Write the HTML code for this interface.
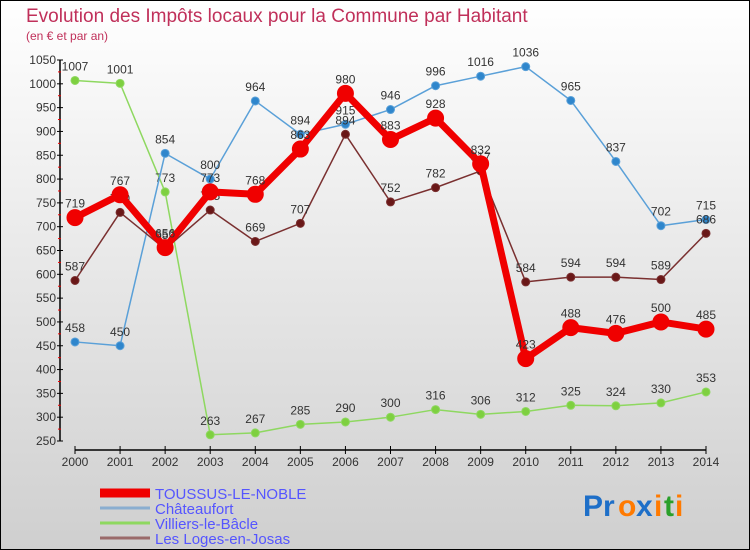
<!DOCTYPE html>
<html><head><meta charset="utf-8"><style>
body{margin:0}
#c{width:750px;height:550px;position:relative;overflow:hidden}
text{font-family:"Liberation Sans",sans-serif}
</style></head><body>
<div id="c">
<svg id="s" width="750" height="550" xmlns="http://www.w3.org/2000/svg">
<defs><linearGradient id="bg" x1="0" y1="0" x2="0" y2="1"><stop offset="0" stop-color="#ffffff"/><stop offset="1" stop-color="#cfcfcf"/></linearGradient></defs>
<rect x="0.5" y="0.5" width="749" height="549" fill="url(#bg)" stroke="#000"/>
<text x="26" y="22" font-size="19" fill="#c0305a">Evolution des Impôts locaux pour la Commune par Habitant</text>
<text x="26" y="40" font-size="12" fill="#c0305a">(en € et par an)</text>
<g id="axes"></g><g id="series"></g><g id="legend"></g>
<g font-size="30" font-weight="bold">
<text x="583" y="516" fill="#1e6fc8">Pr</text><text x="618" y="516" fill="#ff7a00">o</text><text x="636" y="516" fill="#1e6fc8">x</text><text x="654" y="516" fill="#ff7a00">i</text><text x="664" y="516" fill="#2aa02a">t</text><text x="675" y="516" fill="#ff7a00">i</text>
</g>
</svg></div>
<script>
const years=[2000,2001,2002,2003,2004,2005,2006,2007,2008,2009,2010,2011,2012,2013,2014];
const toussus=[719,767,656,773,768,863,980,883,928,832,423,488,476,500,485];
const chateaufort=[458,450,854,800,964,894,915,946,996,1016,1036,965,837,702,715];
const villiers=[1007,1001,773,263,267,285,290,300,316,306,312,325,324,330,353];
const loges=[587,730,653,735,669,707,894,752,782,817,584,594,594,589,686];
const yTicks=[250,300,350,400,450,500,550,600,650,700,750,800,850,900,950,1000,1050];
const NS="http://www.w3.org/2000/svg";
function X(i){return 75+i*(706-75)/14;}
function Y(v){return 441-(v-250)*381/800;}
function mk(t,a,p){const e=document.createElementNS(NS,t);for(const k in a)e.setAttribute(k,a[k]);p.appendChild(e);return e;}
const ax=document.getElementById('axes');
let l=mk('line',{x1:60,y1:Y(1050),x2:60,y2:Y(250),stroke:'#000','stroke-width':1.5},ax);


l=mk('line',{x1:75,y1:450,x2:706,y2:450,stroke:'#000','stroke-width':1.5},ax);


yTicks.forEach((v,i)=>{
  mk('line',{x1:57,y1:Y(v),x2:63,y2:Y(v),stroke:'#000'},ax);
  if(i<yTicks.length-1)mk('line',{x1:58,y1:Y(v+25),x2:61,y2:Y(v+25),stroke:'#e00'},ax);
  const t=mk('text',{x:56,y:Y(v)+4,'text-anchor':'end','font-size':12,fill:'#333'},ax);t.textContent=v;
  
  
});
years.forEach((y,i)=>{
  mk('line',{x1:X(i),y1:446,x2:X(i),y2:454,stroke:'#000'},ax);
  const t=mk('text',{x:X(i),y:466,'text-anchor':'middle','font-size':12,fill:'#333'},ax);t.textContent=y;
  
  
});
const sg=document.getElementById('series');
function draw(d,name,col,dot,w,r,lbl){
  const g=mk('g',{},sg);
  
  
  const p=mk('polyline',{points:d.map((v,i)=>X(i)+','+Y(v)).join(' '),fill:'none',stroke:col,'stroke-width':w,'stroke-linejoin':'round'},g);
  
  
  d.forEach((v,i)=>{
    const c=mk('circle',{cx:X(i),cy:Y(v),r:r,fill:dot,stroke:col,'stroke-width':1},g);
    
    
    const t=mk('text',{x:X(i),y:Y(v)-10,'text-anchor':'middle','font-size':12,fill:'#333'},g);t.textContent=v;
    
    
  });
}
draw(villiers,'villiers-le-bacle','#8ed860','#7ed040',1.5,4);
draw(chateaufort,'chateaufort','#5aa0d8','#2f86cc',1.5,4);
draw(loges,'les-loges-en-josas','#7a3030','#6a1818',1.5,4);
draw(toussus,'toussus-le-noble','#f00000','#f00000',7,8);
const lg=document.getElementById('legend');
[['TOUSSUS-LE-NOBLE','#f00000',9],['Châteaufort','#8aaed0',3],['Villiers-le-Bâcle','#8ed860',3],['Les Loges-en-Josas','#9a6a6a',3]].forEach((e,i)=>{
  const y=493+i*15;
  const g=mk('g',{},lg);
  
  
  mk('line',{x1:100,y1:y,x2:150,y2:y,stroke:e[1],'stroke-width':e[2]},g);
  const t=mk('text',{x:155,y:y+6,'font-size':15,fill:'#5555ff'},g);t.textContent=e[0];
});
</script>
</body></html>
